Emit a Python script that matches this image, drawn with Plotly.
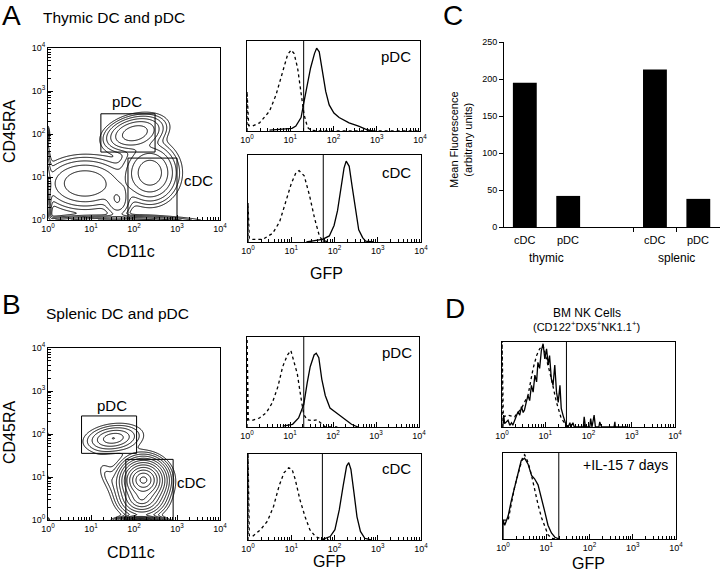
import numpy as np
import plotly.graph_objects as go

W, H = 720, 573
FONT = "Arial, Liberation Sans, sans-serif"

# ---------------- Panel C: bar data ----------------
bar_cells = ["cDC", "pDC", "cDC", "pDC"]
bar_pos = [0, 1, 3, 4]
bar_values = [195, 42, 213, 38]
bar_groups = ["thymic", "splenic"]
bar_group_pos = [0.5, 3.5]
bar_yticks = [0, 50, 100, 150, 200, 250]

# ---------------- Contour populations (log10 units) ----------------
# Panel A (thymic): pDC, cDC, CD11c-lo blob, mid blob, bottom band, left band, left-high
a_cx = [2.02, 2.37, 0.86, 1.62, 1.50, -0.10, -0.05]
a_cy = [2.02, 1.10, 0.85, 0.45, -0.10, 0.60, 2.00]
a_sx = [0.30, 0.28, 0.44, 0.15, 0.80, 0.07, 0.04]
a_sy = [0.18, 0.30, 0.27, 0.20, 0.08, 0.50, 0.10]
a_w = [1.00, 1.00, 0.60, 0.30, 1.50, 1.00, 0.30]
a_rho = [0.30, 0.0, 0.0, 0.0, 0.0, 0.0, 0.0]
a_shape = 1.0
a_levels = [-1.6, -0.2, 0.28]
a_gate_pdc = [1.23, 2.49, 1.58, 2.47]   # xlo, xhi, ylo, yhi
a_gate_cdc = [1.86, 3.00, 0.00, 1.44]

# Panel B (splenic): pDC, cDC, cDC lower lobe, bottom band, bridge, left blobs
b_cx = [1.52, 2.22, 2.18, 2.15, 1.40, 0.00, 0.00, 0.00]
b_cy = [1.90, 0.93, 0.50, -0.05, 1.00, 1.00, 2.00, 0.00]
b_sx = [0.22, 0.13, 0.15, 0.13, 0.14, 0.01, 0.01, 0.02]
b_sy = [0.11, 0.12, 0.12, 0.03, 0.20, 0.05, 0.05, 0.03]
b_w = [0.04, 1.00, 0.15, 0.80, 0.006, 0.004, 0.004, 0.01]
b_rho = [0.20, 0.0, 0.0, 0.0, -0.6, 0.0, 0.0, 0.0]
b_shape = 0.7
b_levels = [-2.5, -0.1, 0.218]
b_gate_pdc = [0.78, 2.06, 1.55, 2.42]
b_gate_cdc = [1.81, 2.91, 0.00, 1.41]

# ---------------- Histograms (log10 GFP, relative count) ----------------
a_pdc_ctrl_log = [0.0, 0.0, 0.04, 0.13, 0.29, 0.52, 0.67, 0.83, 0.94, 1.02, 1.09, 1.17, 1.25, 1.32, 1.40, 1.47, 1.66, 2.6, 4.0]
a_pdc_ctrl_cnt = [0.0, 0.44, 0.06, 0.055, 0.09, 0.22, 0.40, 0.66, 0.85, 0.90, 0.86, 0.70, 0.40, 0.18, 0.04, 0.01, 0.0, 0.0, 0.0]
a_pdc_gfp_log = [0.52, 0.83, 1.04, 1.13, 1.25, 1.32, 1.40, 1.47, 1.56, 1.61, 1.67, 1.74, 1.82, 1.90, 2.01, 2.13, 2.36, 2.58, 2.74, 2.89]
a_pdc_gfp_cnt = [0.01, 0.02, 0.03, 0.055, 0.15, 0.33, 0.51, 0.70, 0.86, 0.92, 0.88, 0.66, 0.44, 0.29, 0.20, 0.15, 0.09, 0.055, 0.02, 0.0]
a_pdc_gate = 1.31

a_cdc_ctrl_log = [0.0, 0.0, 0.03, 0.11, 0.34, 0.57, 0.73, 0.88, 1.00, 1.11, 1.18, 1.30, 1.42, 1.54, 1.65, 1.72, 1.87]
a_cdc_ctrl_cnt = [0.0, 0.45, 0.04, 0.03, 0.03, 0.10, 0.23, 0.49, 0.67, 0.80, 0.82, 0.76, 0.54, 0.27, 0.07, 0.02, 0.0]
a_cdc_gfp_log = [1.35, 1.72, 1.88, 1.99, 2.07, 2.15, 2.22, 2.27, 2.34, 2.41, 2.49, 2.56, 2.65, 2.72, 2.91]
a_cdc_gfp_cnt = [0.0, 0.03, 0.07, 0.19, 0.36, 0.63, 0.85, 0.93, 0.87, 0.63, 0.36, 0.14, 0.05, 0.01, 0.0]
a_cdc_gate = 1.74

b_pdc_ctrl_log = [0.0, 0.0, 0.03, 0.10, 0.29, 0.45, 0.59, 0.72, 0.83, 0.94, 1.02, 1.09, 1.17, 1.25, 1.32, 1.40, 1.52, 1.63, 1.74, 1.82, 2.1]
b_pdc_ctrl_cnt = [0.0, 1.05, 0.08, 0.07, 0.10, 0.16, 0.27, 0.45, 0.67, 0.80, 0.85, 0.74, 0.59, 0.34, 0.14, 0.08, 0.07, 0.08, 0.03, 0.0, 0.0]
b_pdc_gfp_log = [0.83, 1.06, 1.20, 1.32, 1.40, 1.47, 1.56, 1.61, 1.67, 1.74, 1.82, 1.93, 2.13, 2.28, 2.43, 2.58]
b_pdc_gfp_cnt = [0.01, 0.03, 0.10, 0.25, 0.49, 0.67, 0.80, 0.82, 0.77, 0.53, 0.35, 0.21, 0.14, 0.08, 0.03, 0.0]
b_pdc_gate = 1.32

b_cdc_ctrl_log = [0.0, 0.0, 0.03, 0.10, 0.29, 0.45, 0.59, 0.72, 0.83, 0.94, 1.02, 1.09, 1.20, 1.32, 1.43, 1.56, 1.70, 1.87]
b_cdc_ctrl_cnt = [0.0, 1.05, 0.05, 0.04, 0.12, 0.22, 0.39, 0.63, 0.78, 0.84, 0.82, 0.71, 0.47, 0.27, 0.12, 0.04, 0.01, 0.0]
b_cdc_gfp_log = [1.74, 1.90, 2.01, 2.11, 2.20, 2.28, 2.33, 2.38, 2.45, 2.52, 2.60, 2.70, 2.85]
b_cdc_gfp_cnt = [0.01, 0.04, 0.12, 0.35, 0.63, 0.86, 0.90, 0.82, 0.55, 0.27, 0.10, 0.02, 0.0]
b_cdc_gate = 1.72

d_nk_ctrl_log = [0.0, 0.0, 0.03, 0.14, 0.29, 0.45, 0.60, 0.72, 0.80, 0.87, 0.95, 1.03, 1.14, 1.26, 1.37, 1.49, 1.6]
d_nk_ctrl_cnt = [0.0, 1.05, 0.12, 0.14, 0.12, 0.22, 0.37, 0.69, 0.84, 0.92, 0.96, 0.80, 0.57, 0.29, 0.10, 0.02, 0.0]
d_nk_gfp_log = [0.02, 0.04, 0.06, 0.14, 0.18, 0.22, 0.25, 0.29, 0.33, 0.37, 0.41, 0.45, 0.49, 0.52, 0.56, 0.60,
                0.64, 0.68, 0.72, 0.76, 0.80, 0.83, 0.87, 0.91, 0.95, 0.99, 1.03, 1.07, 1.10, 1.14, 1.18, 1.22,
                1.26, 1.30, 1.34, 1.37, 1.41, 1.45, 1.49, 1.53, 1.57, 1.59, 1.64, 1.67, 1.88, 1.90, 1.93, 2.03,
                2.05, 2.08, 2.13, 2.16, 2.24, 2.26, 2.30, 2.59, 2.61, 2.62, 2.92]
d_nk_gfp_cnt = [0.0, 0.14, 0.04, 0.08, 0.02, 0.05, 0.02, 0.07, 0.11, 0.18, 0.14, 0.24, 0.17, 0.20, 0.29, 0.37,
                0.31, 0.49, 0.41, 0.61, 0.53, 0.76, 0.69, 0.90, 0.98, 0.80, 0.92, 0.73, 0.84, 0.57, 0.49, 0.73,
                0.41, 0.29, 0.49, 0.22, 0.14, 0.06, 0.01, 0.0, 0.05, 0.0, 0.05, 0.0, 0.0, 0.12, 0.0, 0.0,
                0.10, 0.0, 0.14, 0.0, 0.0, 0.06, 0.0, 0.0, 0.06, 0.0, 0.0]
d_nk_gate = 1.49

d_il15_ctrl_log = [0.0, 0.12, 0.27, 0.39, 0.46, 0.50, 0.58, 0.66, 0.73, 0.81, 0.89, 0.97, 1.04, 1.12, 1.2]
d_il15_ctrl_cnt = [0.22, 0.22, 0.61, 0.83, 0.96, 0.98, 0.89, 0.74, 0.57, 0.40, 0.25, 0.14, 0.05, 0.01, 0.0]
d_il15_gfp_log = [0.0, 0.0, 0.04, 0.12, 0.19, 0.27, 0.35, 0.42, 0.50, 0.58, 0.66, 0.73, 0.81, 0.89, 0.97, 1.04, 1.12, 1.20, 1.3]
d_il15_gfp_cnt = [0.0, 0.22, 0.16, 0.27, 0.44, 0.61, 0.78, 0.91, 0.94, 0.87, 0.74, 0.70, 0.63, 0.48, 0.31, 0.16, 0.07, 0.02, 0.0]
d_il15_gate = 1.29

log_tick_vals = [1, 10, 100, 1000, 10000]
log_tick_text = ["10<sup>%d</sup>" % k for k in range(5)]
minor_vals = [k * 10 ** n for n in range(4) for k in range(2, 10)]


def dom_x(x0, x1):
    return [x0 / W, x1 / W]


def dom_y(y0, y1):
    return [1 - y1 / H, 1 - y0 / H]


def log_axis(domain, anchor, labels=True):
    return dict(type="log", range=[0, 4], domain=domain, anchor=anchor, automargin=False,
                showline=True, linecolor="black", linewidth=1, mirror=True,
                ticks="inside", ticklen=5, tickwidth=1, tickcolor="black",
                tickmode="array", tickvals=log_tick_vals, ticktext=log_tick_text,
                showticklabels=labels, tickfont=dict(size=9, color="black", family=FONT),
                minor=dict(ticks="inside", ticklen=3, tickwidth=1, tickcolor="black",
                           tickmode="array", tickvals=minor_vals),
                showgrid=False, zeroline=False, fixedrange=True)


def hist_yaxis(domain, anchor):
    return dict(range=[0, 1.0], domain=domain, anchor=anchor, showline=True, automargin=False,
                linecolor="black", linewidth=1, mirror=True, ticks="",
                showticklabels=False, showgrid=False, zeroline=False, fixedrange=True)


grid = np.linspace(0, 4, 321)
GX, GY = np.meshgrid(grid, grid)


def density(cx, cy, sx, sy, w, rho, p):
    z = np.zeros_like(GX)
    for i in range(len(cx)):
        dx = (GX - cx[i]) / sx[i]
        dy = (GY - cy[i]) / sy[i]
        r = rho[i]
        q = (dx * dx - 2 * r * dx * dy + dy * dy) / (1 - r * r)
        z += w[i] * np.exp(-0.5 * q ** p)
    return np.log10(np.maximum(z, 1e-9))


fig = go.Figure()

for zfield, ax, lv in [
    (density(a_cx, a_cy, a_sx, a_sy, a_w, a_rho, a_shape), "", a_levels),
    (density(b_cx, b_cy, b_sx, b_sy, b_w, b_rho, b_shape), "4", b_levels),
]:
    fig.add_trace(go.Contour(x=10 ** grid, y=10 ** grid, z=zfield,
                             xaxis="x" + ax, yaxis="y" + ax, autocontour=False,
                             contours=dict(coloring="lines", start=lv[0], end=lv[1], size=lv[2]),
                             colorscale=[[0, "black"], [1, "black"]], showscale=False,
                             line=dict(width=1, smoothing=1), hoverinfo="skip"))


def gate_rect(g, ax):
    x0, x1, y0, y1 = [10 ** v for v in g]
    fig.add_trace(go.Scatter(x=[x0, x1, x1, x0, x0], y=[y0, y0, y1, y1, y0], mode="lines",
                             line=dict(color="black", width=1), xaxis="x" + ax, yaxis="y" + ax,
                             hoverinfo="skip", cliponaxis=False))


gate_rect(a_gate_pdc, "")
gate_rect(a_gate_cdc, "")
gate_rect(b_gate_pdc, "4")
gate_rect(b_gate_cdc, "4")


def hist(ax, ctrl_log, ctrl_cnt, gfp_log, gfp_cnt, gate):
    fig.add_trace(go.Scatter(x=10 ** np.array(ctrl_log), y=ctrl_cnt, mode="lines",
                             line=dict(color="black", width=1.3, dash="dot"),
                             xaxis="x" + ax, yaxis="y" + ax, hoverinfo="skip"))
    fig.add_trace(go.Scatter(x=10 ** np.array(gfp_log), y=gfp_cnt, mode="lines",
                             line=dict(color="black", width=1.3),
                             xaxis="x" + ax, yaxis="y" + ax, hoverinfo="skip"))
    fig.add_trace(go.Scatter(x=[10 ** gate, 10 ** gate], y=[0, 1], mode="lines",
                             line=dict(color="black", width=1),
                             xaxis="x" + ax, yaxis="y" + ax, hoverinfo="skip"))


hist("2", a_pdc_ctrl_log, a_pdc_ctrl_cnt, a_pdc_gfp_log, a_pdc_gfp_cnt, a_pdc_gate)
hist("3", a_cdc_ctrl_log, a_cdc_ctrl_cnt, a_cdc_gfp_log, a_cdc_gfp_cnt, a_cdc_gate)
hist("5", b_pdc_ctrl_log, b_pdc_ctrl_cnt, b_pdc_gfp_log, b_pdc_gfp_cnt, b_pdc_gate)
hist("6", b_cdc_ctrl_log, b_cdc_ctrl_cnt, b_cdc_gfp_log, b_cdc_gfp_cnt, b_cdc_gate)
hist("8", d_nk_ctrl_log, d_nk_ctrl_cnt, d_nk_gfp_log, d_nk_gfp_cnt, d_nk_gate)
hist("9", d_il15_ctrl_log, d_il15_ctrl_cnt, d_il15_gfp_log, d_il15_gfp_cnt, d_il15_gate)

fig.add_trace(go.Bar(x=bar_pos, y=bar_values, width=0.55, marker=dict(color="black", line=dict(width=0)),
                     xaxis="x7", yaxis="y7", hoverinfo="skip"))

layout = dict(template="none", width=W, height=H, autosize=False,
              margin=dict(l=0, r=0, t=0, b=0, pad=0),
              paper_bgcolor="white", plot_bgcolor="white", showlegend=False,
              font=dict(family=FONT, color="black"))

layout["xaxis"] = log_axis(dom_x(48, 220), "y")
layout["yaxis"] = log_axis(dom_y(48, 220), "x")
layout["xaxis2"] = log_axis(dom_x(247, 420), "y2")
layout["yaxis2"] = hist_yaxis(dom_y(41, 131), "x2")
layout["xaxis3"] = log_axis(dom_x(248, 421), "y3")
layout["yaxis3"] = hist_yaxis(dom_y(155, 242), "x3")
layout["xaxis4"] = log_axis(dom_x(48, 220), "y4")
layout["yaxis4"] = log_axis(dom_y(348, 520), "x4")
layout["xaxis5"] = log_axis(dom_x(247, 419), "y5")
layout["yaxis5"] = hist_yaxis(dom_y(337, 427), "x5")
layout["xaxis6"] = log_axis(dom_x(248, 421), "y6")
layout["yaxis6"] = hist_yaxis(dom_y(454, 540), "x6")
layout["xaxis8"] = log_axis(dom_x(502, 675), "y8")
layout["yaxis8"] = hist_yaxis(dom_y(342, 427), "x8")
layout["xaxis9"] = log_axis(dom_x(503, 676), "y9")
layout["yaxis9"] = hist_yaxis(dom_y(453, 539), "x9")
layout["xaxis7"] = dict(range=[-0.48, 4.5], domain=dom_x(504, 720), anchor="y7", automargin=False,
                        showline=True, linecolor="black", linewidth=1,
                        ticks="outside", ticklen=4, tickcolor="black", tickmode="array",
                        tickvals=[2.5, 3.5], showticklabels=False,
                        showgrid=False, zeroline=False, fixedrange=True)
layout["yaxis7"] = dict(range=[0, 250], domain=dom_y(42, 227), anchor="x7", automargin=False,
                        showline=True, linecolor="black", linewidth=1,
                        ticks="outside", ticklen=4, tickcolor="black", tickmode="array",
                        tickvals=bar_yticks, tickfont=dict(size=9, color="black", family=FONT),
                        showgrid=False, zeroline=False, fixedrange=True)

ann = []


def text(x, y, s, size, angle=0, xanchor="center"):
    ann.append(dict(x=x / W, y=1 - y / H, xref="paper", yref="paper", text=s, showarrow=False,
                    font=dict(size=size, color="black", family=FONT),
                    xanchor=xanchor, yanchor="middle", textangle=angle))


text(0, 16, "A", 28, xanchor="left")
text(41, 17, "Thymic DC and pDC", 15.5, xanchor="left")
text(0, 304, "B", 28, xanchor="left")
text(44, 313, "Splenic DC and pDC", 15.5, xanchor="left")
text(453, 16, "C", 28)
text(455, 308, "D", 28)

text(131, 251, "CD11c", 16)
text(9, 132, "CD45RA", 16, angle=-90)
text(326, 273, "GFP", 16)
text(131, 552, "CD11c", 16)
text(9, 433, "CD45RA", 16, angle=-90)
text(329, 561, "GFP", 16)
text(588, 563, "GFP", 16)

text(127, 102, "pDC", 15)
text(198, 180, "cDC", 15)
text(112, 405, "pDC", 15)
text(191, 482, "cDC", 15)
text(396, 57, "pDC", 15)
text(396, 172, "cDC", 15)
text(397, 352, "pDC", 15)
text(396, 468, "cDC", 15)

text(587, 313, "BM NK Cells", 12)
text(586, 326, "(CD122<sup>+</sup>DX5<sup>+</sup>NK1.1<sup>+</sup>)", 11)
text(670, 465, "+IL-15 7 days", 14, xanchor="right")

text(461, 139, "Mean Fluorescence<br>(arbitrary units)", 11, angle=-90)

for p, c in zip(bar_pos, bar_cells):
    ann.append(dict(x=p, y=1 - 240 / H, xref="x7", yref="paper", text=c, showarrow=False,
                    font=dict(size=11, color="black", family=FONT), yanchor="middle"))
for p, g in zip(bar_group_pos, bar_groups):
    ann.append(dict(x=p, y=1 - 258 / H, xref="x7", yref="paper", text=g, showarrow=False,
                    font=dict(size=12, color="black", family=FONT), yanchor="middle"))

layout["annotations"] = ann
fig.update_layout(**layout)
fig.write_html("out.html", config={"displayModeBar": False, "staticPlot": True},
               post_script="document.body.style.margin='0';document.body.style.padding='0';"
                           "document.documentElement.style.margin='0';")
